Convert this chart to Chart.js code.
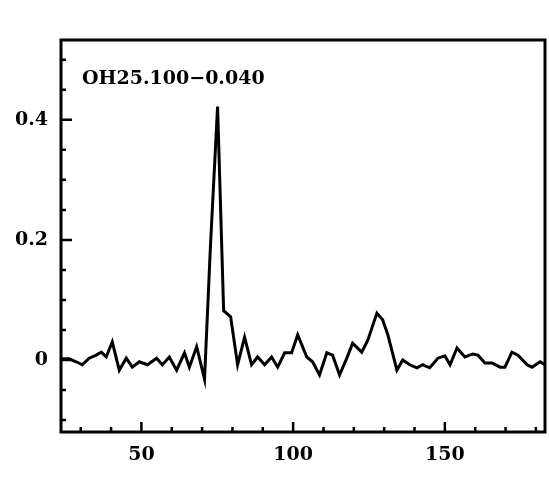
<!DOCTYPE html>
<html>
<head>
<meta charset="utf-8">
<script src="https://cdn.jsdelivr.net/npm/chart.js@4/dist/chart.umd.min.js"></script>
<style>
  html, body { margin: 0; padding: 0; background: #fff; }
  #wrap { width: 549px; height: 491px; }
</style>
</head>
<body>
<div id="wrap"><canvas id="c" width="549" height="491"></canvas></div>
<script>
// ---- data ----
const sourceLabel = "OH25.100\u22120.040";
const velocity = [23.6, 26.2, 28.5, 30.5, 32.8, 35.1, 36.8, 38.4, 40.4, 42.7,
  45.0, 47.0, 49.3, 52.0, 55.0, 56.9, 59.2, 61.6, 64.2, 65.8,
  68.2, 70.8, 72.8, 75.1, 77.1, 79.4, 81.7, 84.0, 86.3, 88.3,
  90.6, 92.9, 94.9, 97.2, 99.5, 101.5, 104.5, 106.4, 108.7, 111.1,
  113.0, 115.3, 117.7, 119.6, 122.6, 124.6, 127.6, 129.5, 131.2, 134.2,
  136.1, 138.4, 140.8, 142.7, 145.0, 147.7, 150.0, 151.7, 154.0, 156.6,
  159.2, 160.9, 163.2, 165.5, 168.2, 169.8, 172.1, 174.1, 177.1, 178.7,
  181.4, 183.0];
const flux = [0.002, 0.002, -0.003, -0.008, 0.003, 0.008, 0.013, 0.005, 0.030, -0.017,
  0.003, -0.012, -0.003, -0.008, 0.003, -0.008, 0.005, -0.017, 0.012, -0.012,
  0.022, -0.032, 0.195, 0.422, 0.082, 0.072, -0.008, 0.038, -0.008, 0.005,
  -0.008, 0.005, -0.012, 0.012, 0.012, 0.042, 0.005, -0.003, -0.025, 0.012,
  0.008, -0.025, 0.003, 0.028, 0.013, 0.033, 0.078, 0.067, 0.042, -0.017,
  0.000, -0.008, -0.013, -0.008, -0.013, 0.003, 0.007, -0.008, 0.020, 0.005,
  0.010, 0.008, -0.005, -0.005, -0.012, -0.012, 0.013, 0.008, -0.008, -0.012,
  -0.003, -0.008];
const xTickLabels = [50, 100, 150];
const yTickLabels = [0, 0.2, 0.4];
const xMinorTicks = [30, 40, 50, 60, 70, 80, 90, 100, 110, 120, 130, 140, 150, 160, 170, 180];
const yMinorTicks = [-0.1, -0.05, 0, 0.05, 0.1, 0.15, 0.2, 0.25, 0.3, 0.35, 0.4, 0.45, 0.5];

const FONT = '"DejaVu Serif", "Liberation Serif", serif';

const framePlugin = {
  id: 'frame',
  afterDraw(chart) {
    const { ctx, chartArea: { left, right, top, bottom }, scales: { x, y } } = chart;
    ctx.save();
    ctx.strokeStyle = '#000';
    ctx.lineWidth = 3;
    ctx.strokeRect(left, top, right - left, bottom - top);
    ctx.lineWidth = 2.5;
    ctx.beginPath();
    xMinorTicks.forEach(v => {
      const px = x.getPixelForValue(v);
      const len = xTickLabels.includes(v) ? 10 : 5;
      ctx.moveTo(px, bottom);
      ctx.lineTo(px, bottom - len);
    });
    yMinorTicks.forEach(v => {
      const py = y.getPixelForValue(v);
      const len = yTickLabels.some(t => Math.abs(t - v) < 1e-9) ? 11 : 5;
      ctx.moveTo(left, py);
      ctx.lineTo(left + len, py);
    });
    ctx.stroke();
    ctx.fillStyle = '#000';
    ctx.font = 'bold 19px ' + FONT;
    ctx.textBaseline = 'alphabetic';
    ctx.textAlign = 'left';
    ctx.fillText(sourceLabel, left + 21, top + 44);
    ctx.restore();
  }
};

new Chart(document.getElementById('c'), {
  type: 'line',
  data: {
    datasets: [{
      data: velocity.map((v, i) => ({ x: v, y: flux[i] })),
      borderColor: '#000',
      borderWidth: 3,
      pointRadius: 0,
      tension: 0,
      fill: false
    }]
  },
  options: {
    responsive: false,
    animation: false,
    devicePixelRatio: 1,
    layout: { padding: { top: 40, right: 4, left: 0, bottom: 0 } },
    plugins: { legend: { display: false }, tooltip: { enabled: false }, title: { display: false } },
    scales: {
      x: {
        type: 'linear',
        min: 23.5,
        max: 183,
        grid: { display: false, drawTicks: false },
        border: { display: false },
        afterBuildTicks: s => { s.ticks = xTickLabels.map(v => ({ value: v })); },
        afterFit: s => { s.height = 59; },
        ticks: {
          color: '#000',
          font: { family: FONT, size: 19, weight: 'bold' },
          padding: 12,
          maxRotation: 0,
          autoSkip: false,
          callback: v => String(v)
        }
      },
      y: {
        type: 'linear',
        min: -0.12,
        max: 0.533,
        grid: { display: false, drawTicks: false },
        border: { display: false },
        afterBuildTicks: s => { s.ticks = yTickLabels.map(v => ({ value: v })); },
        afterFit: s => { s.width = 61; },
        ticks: {
          color: '#000',
          font: { family: FONT, size: 19, weight: 'bold' },
          padding: 13,
          autoSkip: false,
          callback: v => String(v)
        }
      }
    }
  },
  plugins: [framePlugin]
});
</script>
</body>
</html>
